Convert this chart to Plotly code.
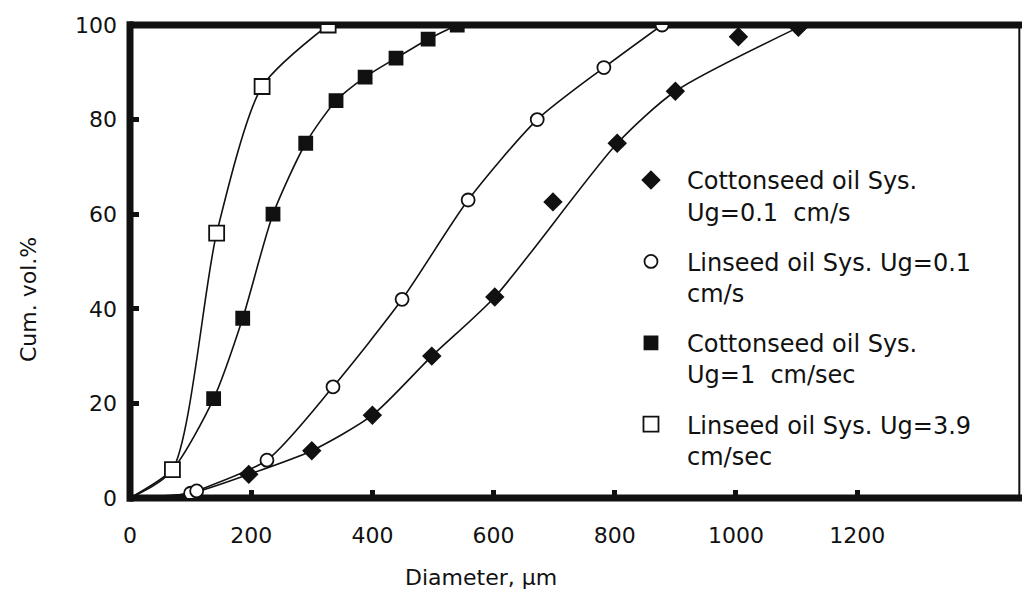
import plotly.graph_objects as go

# Cumulative volume distribution of bubble/drop diameters for four systems
lin39_x = [70, 143, 218, 327]
lin39_y = [6, 56, 87, 100]

cot1_x = [138, 186, 236, 290, 340, 388, 439, 492, 540]
cot1_y = [21, 38, 60, 75, 84, 89, 93, 97, 100]

lin01_x = [100, 110, 226, 335, 449, 558, 672, 782, 878]
lin01_y = [1, 1.5, 8, 23.5, 42, 63, 80, 91, 100]

cot01_x = [196, 300, 400, 498, 602, 698, 804, 900, 1004, 1103]
cot01_y = [5, 10, 17.5, 30, 42.5, 62.6, 75, 86, 97.5, 99.5]

# fitted curves (smooth lines through the origin)
lin39_fit_x = [0] + lin39_x
lin39_fit_y = [0] + lin39_y
cot1_fit_x = [0, lin39_x[0]] + cot1_x
cot1_fit_y = [0, lin39_y[0]] + cot1_y
lin01_fit_x = [0] + lin01_x
lin01_fit_y = [0] + lin01_y
cot01_fit_x = [0, 100, 196, 300, 400, 498, 602, 804, 900, 1103]
cot01_fit_y = [0, 1, 5, 10, 17.5, 30, 42.5, 75, 86, 99.5]

x_ticks = [0, 200, 400, 600, 800, 1000, 1200]
y_ticks = [0, 20, 40, 60, 80, 100]

labels = [
    "Cottonseed oil Sys.<br>Ug=0.1  cm/s",
    "Linseed oil Sys. Ug=0.1<br>cm/s",
    "Cottonseed oil Sys.<br>Ug=1  cm/sec",
    "Linseed oil Sys. Ug=3.9<br>cm/sec",
]

FONT = "DejaVu Sans"
INK = "#111111"

fig = go.Figure()

line_style = dict(color=INK, width=1.6, shape="spline", smoothing=0.7)
for fx, fy in [(lin39_fit_x, lin39_fit_y), (cot1_fit_x, cot1_fit_y),
               (lin01_fit_x, lin01_fit_y), (cot01_fit_x, cot01_fit_y)]:
    fig.add_trace(go.Scatter(x=fx, y=fy, mode="lines", line=line_style,
                             showlegend=False, hoverinfo="skip"))

series = [
    (cot01_x, cot01_y, "diamond", INK, 13, labels[0]),
    (lin01_x, lin01_y, "circle", "white", 13, labels[1]),
    (cot1_x, cot1_y, "square", INK, 13, labels[2]),
    (lin39_x, lin39_y, "square", "white", 15, labels[3]),
]
for i, (sx, sy, sym, fill, size, name) in enumerate(series):
    fig.add_trace(go.Scatter(
        x=sx, y=sy, mode="markers", name=name,
        legendgroup=f"g{i}",
        marker=dict(symbol=sym, size=size, color=fill,
                    line=dict(color=INK, width=1.8)),
    ))

fig.update_layout(
    width=1026, height=596,
    margin=dict(l=130, r=4, t=25, b=98),
    paper_bgcolor="white", plot_bgcolor="white",
    font=dict(family=FONT, size=22, color=INK),
    xaxis=dict(range=[0, 1472], tickvals=x_ticks, ticktext=[str(v) for v in x_ticks],
               showgrid=False, zeroline=False, showline=False,
               ticks="inside", ticklen=8, tickwidth=5, tickcolor=INK,
               ticklabelstandoff=22),
    yaxis=dict(range=[0, 100], tickvals=y_ticks, ticktext=[str(v) for v in y_ticks],
               showgrid=False, zeroline=False, showline=False,
               ticks="inside", ticklen=9, tickwidth=5, tickcolor=INK,
               ticklabelstandoff=12),
    legend=dict(x=0.5437, y=0.719, xanchor="left", yanchor="top",
                bgcolor="rgba(0,0,0,0)", font=dict(size=24, family=FONT),
                valign="top", tracegroupgap=16, itemwidth=62,
                traceorder="grouped"),
    annotations=[
        dict(text="Cum. vol.%", xref="paper", yref="paper", x=-0.1143, y=0.4186,
             xanchor="center", yanchor="middle", textangle=-90, showarrow=False,
             font=dict(size=22)),
        dict(text="Diameter, µm", xref="paper", yref="paper", x=0.3935, y=-0.169,
             xanchor="center", yanchor="middle", showarrow=False,
             font=dict(size=22)),
    ],
    shapes=[
        dict(type="line", xref="paper", yref="paper", x0=0, x1=0, y0=-0.008, y1=1.008,
             line=dict(color=INK, width=7), layer="below"),
        dict(type="line", xref="paper", yref="paper", x0=0, x1=1, y0=1, y1=1,
             line=dict(color=INK, width=7), layer="below"),
        dict(type="line", xref="paper", yref="paper", x0=0, x1=1, y0=0, y1=0,
             line=dict(color=INK, width=7), layer="below"),
        dict(type="line", xref="paper", yref="paper", x0=0.997, x1=0.997, y0=0, y1=1,
             line=dict(color=INK, width=2), layer="below"),
    ],
)

fig.write_html("out.html")
